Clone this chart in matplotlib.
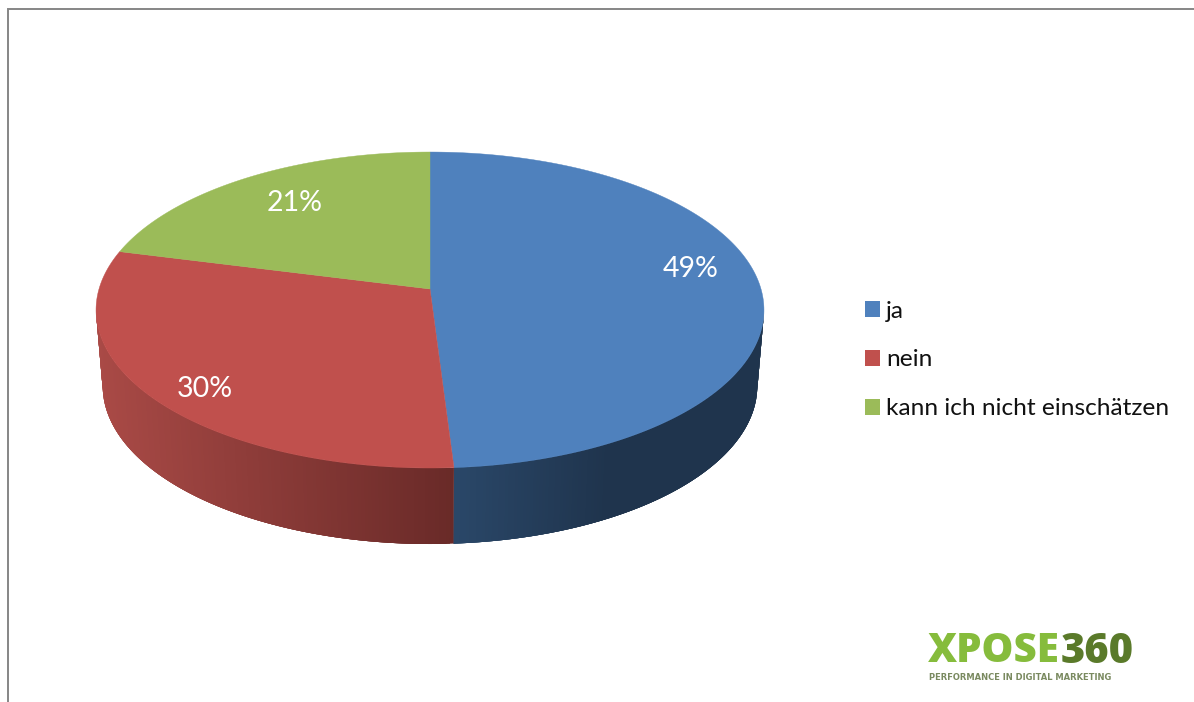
import numpy as np
import matplotlib
matplotlib.use("Agg")
import matplotlib.pyplot as plt
from matplotlib.patches import Rectangle

categories = ["ja", "nein", "kann ich nicht einschätzen"]
values = [49, 30, 21]
labels = ["49%", "30%", "21%"]
colors = ["#4F81BD", "#C0504D", "#9BBB59"]
side_near = [(0.165, 0.280, 0.410), (0.665, 0.290, 0.275), None]
side_far = [(0.122, 0.204, 0.302), (0.412, 0.165, 0.157), None]
shade_span = [0.5, 1.0, 1.0]
label_pos = [(691, 269), (205, 389), (295, 203)]

CX, CY, A, B, K, DEPTH, SHRINK = 430, 289, 331, 155.2, 0.133, 76, 0.98


def project(theta):
    u, v = np.sin(theta), np.cos(theta)
    d = 1 + K * v
    return CX + A * u / d, CY - B * v / d


plt.rcParams["font.family"] = ["Lato", "DejaVu Sans"]
fig = plt.figure(figsize=(11.94, 7.02), dpi=100, facecolor="white")
ax = fig.add_axes([0, 0, 1, 1])
ax.set_xlim(0, 1194)
ax.set_ylim(702, 0)
ax.axis("off")

# frame
ax.plot([8, 8, 1194], [702, 9, 9], color="#868686", lw=1.4, solid_joinstyle="miter")

fr = np.cumsum([0] + values) / sum(values) * 2 * np.pi
vis0 = np.arccos(-K)
vis1 = 2 * np.pi - vis0

# side wall: overlapping strips so that no seam shows, shaded along x
for i in range(len(values)):
    if side_near[i] is None:
        continue
    a0, a1 = max(fr[i], vis0), min(fr[i + 1], vis1)
    edges = np.linspace(a0, a1, 160)
    xs, ys = project(edges)
    xb = CX + (xs - CX) * SHRINK
    yb = ys + DEPTH
    xa0, xa1 = xs.min(), xs.max()
    for j in range(len(edges) - 1):
        k = min(j + 4, len(edges) - 1)
        xm = 0.5 * (xs[j] + xs[j + 1])
        f = (xm - xa0) / (xa1 - xa0)
        f = min(1.0, f / shade_span[i])
        c = np.array(side_near[i]) * (1 - f) + np.array(side_far[i]) * f
        seg = np.arange(j, k + 1)
        ax.fill(np.r_[xs[seg], xb[seg][::-1]], np.r_[ys[seg], yb[seg][::-1]],
                color=tuple(c), lw=0, zorder=2)

# top face
for i in range(len(values)):
    th = np.linspace(fr[i], fr[i + 1], 240)
    x, y = project(th)
    ax.fill(np.r_[CX, x], np.r_[CY, y], color=colors[i], lw=0.3, zorder=3)
    ax.text(*label_pos[i], labels[i], color="white", fontsize=20.5, ha="center",
            va="center", zorder=4)

# legend
handles = [Rectangle((0, 0), 1, 1, color=c, lw=0) for c in colors]
ax.legend(handles, categories, loc="center left", bbox_to_anchor=(865 / 1194, 1 - 360 / 702),
          frameon=False, fontsize=17.6, handlelength=0.62, handleheight=0.62,
          handletextpad=0.24, labelspacing=1.14, borderpad=0, borderaxespad=0,
          labelcolor="#111111")

# logo
ax.text(928, 652, "XPOSE", color="#86BC3C", fontsize=29, fontweight="black",
        family="Open Sans", va="center", ha="left", zorder=5)
ax.text(1061, 652, "360", color="#5A7A2A", fontsize=30, fontweight="black",
        family="Open Sans", va="center", ha="left", zorder=5)
ax.text(929, 677, "PERFORMANCE IN DIGITAL MARKETING", color="#7A8A60", fontsize=6,
        fontweight="bold", family="DejaVu Sans", va="center", ha="left", zorder=5)

fig.savefig("out.png", dpi=100, facecolor="white")
